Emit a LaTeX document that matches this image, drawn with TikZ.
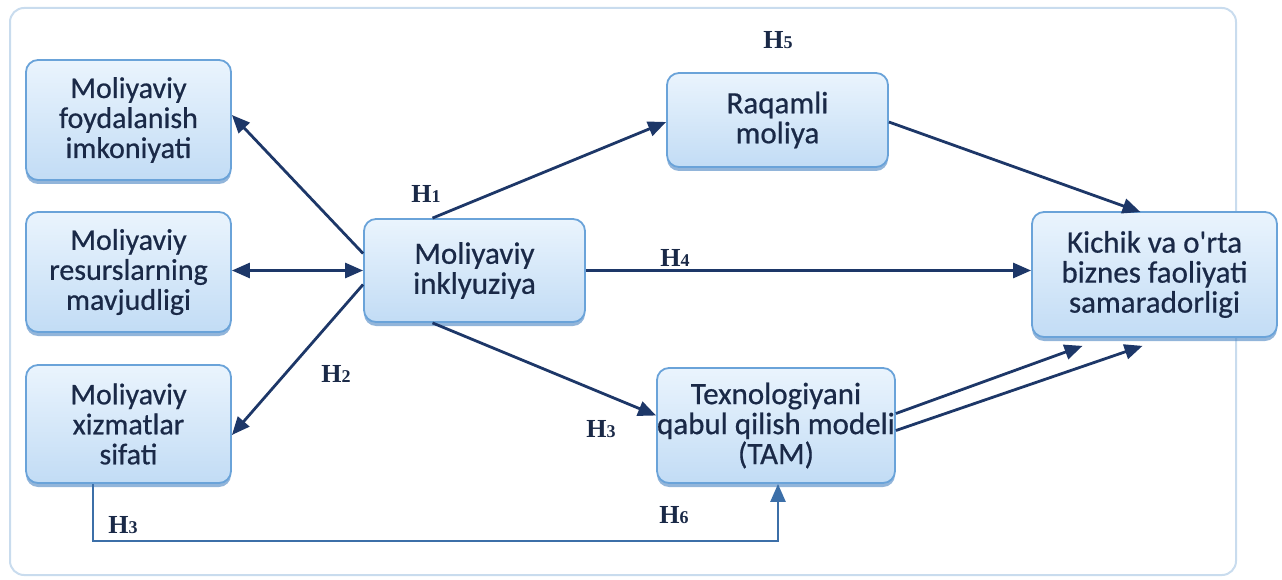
\documentclass[tikz,border=0pt]{standalone}
\usepackage{fontspec}
\newfontfamily\boxfont[FakeBold=0.6]{Carlito}
\newfontfamily\hfont{Liberation Serif}
\usetikzlibrary{arrows.meta,shadows,calc}
\definecolor{navy}{HTML}{1D3768}
\definecolor{txt}{HTML}{1A2947}
\definecolor{bord}{HTML}{6AA3D9}
\definecolor{frame}{HTML}{C9DCEE}
\definecolor{topc}{HTML}{EAF4FD}
\definecolor{botc}{HTML}{C2DCF5}
\definecolor{shad}{HTML}{4A84C2}
\definecolor{link}{HTML}{3C6FA8}
\tikzset{
  boxnode/.style={draw=bord, line width=1.8pt, rounded corners=12pt,
    top color=topc, bottom color=botc, text=txt, align=center,
    font=\boxfont\fontsize{31}{30}\selectfont, inner sep=0pt,
    drop shadow={shadow xshift=0pt, shadow yshift=-4pt, fill=shad, opacity=0.6}},
  smallbox/.style={boxnode, font=\boxfont\fontsize{30}{30}\selectfont},
  arr/.style={draw=navy, line width=2.8pt, -{Triangle[length=18pt,width=15pt]}},
  hlab/.style={text=txt, inner sep=0pt}
}
\newcommand{\hy}[1]{{\hfont\bfseries\fontsize{26}{26}\selectfont H\fontsize{18}{18}\selectfont #1}}
\begin{document}
\begin{tikzpicture}[x=1pt,y=-1pt]
\useasboundingbox (0,0) rectangle (1282,580);
\draw[frame, line width=2pt, rounded corners=14pt] (10,8) rectangle (1236,575);

\node[smallbox, minimum width=205pt, minimum height=120pt] (A) at (128.5,120) {Moliyaviy\\foydalanish\\imkoniyati};
\node[smallbox, minimum width=205pt, minimum height=120pt] (B) at (128.5,272) {Moliyaviy\\resurslarning\\mavjudligi};
\node[smallbox, minimum width=205pt, minimum height=118pt] (C) at (128.5,424) {Moliyaviy\\xizmatlar\\sifati};
\node[boxnode, minimum width=221pt, minimum height=103pt] (M) at (474.5,270.5) {Moliyaviy\\inklyuziya};
\node[boxnode, minimum width=221pt, minimum height=94pt] (R) at (777.5,120) {Raqamli\\moliya};
\node[boxnode, minimum width=245pt, minimum height=125pt] (K) at (1154.5,274.5) {Kichik va o'rta\\biznes faoliyati\\samaradorligi};
\node[boxnode, minimum width=238pt, minimum height=115pt] (T) at (776,425.5) {Texnologiyani\\qabul qilish modeli\\(TAM)};

% arrows
\draw[arr] ([yshift=17pt]M.west) -- ([yshift=5pt]A.east);
\draw[arr, {Triangle[length=18pt,width=15pt]}-{Triangle[length=18pt,width=15pt]}] (M.west) -- (M.west -| B.east);
\draw[arr] ([yshift=-14pt]M.west) -- ([yshift=-11pt]C.east);
\draw[arr] ([xshift=-42pt]M.north) -- ([yshift=-2pt]R.west);
\draw[arr] ([yshift=-2pt]R.east) -- ([xshift=-14pt,yshift=-1pt]K.north);
\draw[arr] (M.east) -- (M.east -| K.west);
\draw[arr] ([xshift=-42pt]M.south) -- ([yshift=10pt]T.west);
\draw[arr] ([yshift=12pt]T.east) -- ([xshift=-72pt,yshift=-8pt]K.south);
\draw[arr] ([yshift=-5pt]T.east) -- ([xshift=-12pt,yshift=-8pt]K.south);
\draw[draw=link, line width=2.6pt, -{Triangle[length=18pt,width=15pt]}] ([xshift=-35.5pt]C.south) -- ++(0,57) -| ([xshift=2pt]T.south);

% labels
\node[hlab] (h1) at (426,194) {\hy{1}};
\node[hlab] (h5) at (778,40) {\hy{5}};
\node[hlab] (h4) at (675,258) {\hy{4}};
\node[hlab] (h2) at (336,374) {\hy{2}};
\node[hlab] (h3a) at (601,429) {\hy{3}};
\node[hlab] (h3b) at (123,525) {\hy{3}};
\node[hlab] (h6) at (674,515) {\hy{6}};
\end{tikzpicture}
\end{document}
